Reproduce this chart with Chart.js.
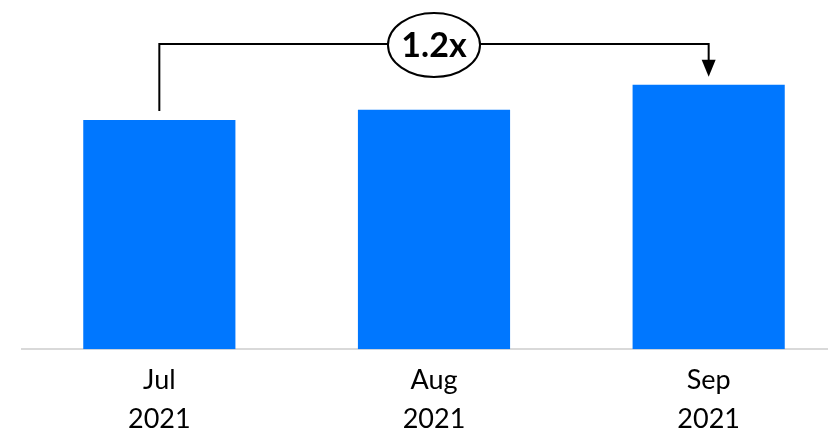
<!DOCTYPE html>
<html>
<head>
<meta charset="utf-8">
<script src="https://cdn.jsdelivr.net/npm/chart.js@4.4.1/dist/chart.umd.min.js"></script>
<style>
  html, body { margin: 0; padding: 0; background: #ffffff; overflow: hidden; }
  #wrap { width: 846px; height: 434px; }
</style>
</head>
<body>
<div id="wrap"><canvas id="growth"></canvas></div>
<script>
const months = [['Jul', '2021'], ['Aug', '2021'], ['Sep', '2021']];
const values = [86.6, 90.5, 100];
const growthLabel = '1.2x';

// bracket from first bar to last bar with the growth multiple in an ellipse
const growthBracket = {
    id: 'growthBracket',
    afterDatasetsDraw(chart) {
        const ctx = chart.ctx;
        const meta = chart.getDatasetMeta(0);
        const first = meta.data[0];
        const last = meta.data[meta.data.length - 1];
        const lineY = 44;
        const x1 = first.x, x2 = last.x;
        const midX = (x1 + x2) / 2;

        ctx.save();
        ctx.strokeStyle = '#000000';
        ctx.fillStyle = '#000000';
        ctx.lineWidth = 2;
        ctx.beginPath();
        ctx.moveTo(x1, first.y - 9);
        ctx.lineTo(x1, lineY);
        ctx.lineTo(x2, lineY);
        ctx.lineTo(x2, last.y - 24);
        ctx.stroke();

        // arrow head
        ctx.beginPath();
        ctx.moveTo(x2 - 7, last.y - 25);
        ctx.lineTo(x2 + 7, last.y - 25);
        ctx.lineTo(x2, last.y - 8);
        ctx.closePath();
        ctx.fill();

        // ellipse
        ctx.beginPath();
        ctx.ellipse(midX, 45, 46, 32, 0, 0, Math.PI * 2);
        ctx.fillStyle = '#ffffff';
        ctx.fill();
        ctx.stroke();

        ctx.fillStyle = '#000000';
        ctx.font = 'bold 34px Lato';
        ctx.textAlign = 'center';
        ctx.textBaseline = 'middle';
        ctx.fillText(growthLabel, midX, 46);
        ctx.restore();
    }
};

const ctx = document.getElementById('growth').getContext('2d');

new Chart(ctx, {
    type: 'bar',
    data: {
        labels: months,
        datasets: [{
            data: values,
            backgroundColor: '#0077ff',
            borderWidth: 0,
            barPercentage: 0.554,
            categoryPercentage: 1
        }]
    },
    options: {
        responsive: true,
        maintainAspectRatio: false,
        animation: false,
        layout: {
            padding: { left: 22, right: 0, top: 0, bottom: -16 }
        },
        plugins: {
            legend: { display: false },
            tooltip: { enabled: false }
        },
        scales: {
            x: {
                grid: { display: false, drawTicks: false },
                border: { display: true, color: '#d9d9d9', width: 2 },
                ticks: {
                    color: '#000000',
                    padding: 11,
                    font: { family: 'Lato', size: 27, lineHeight: 1.46 }
                }
            },
            y: {
                display: false,
                min: 0,
                max: 132
            }
        }
    },
    plugins: [growthBracket]
});
</script>
</body>
</html>
